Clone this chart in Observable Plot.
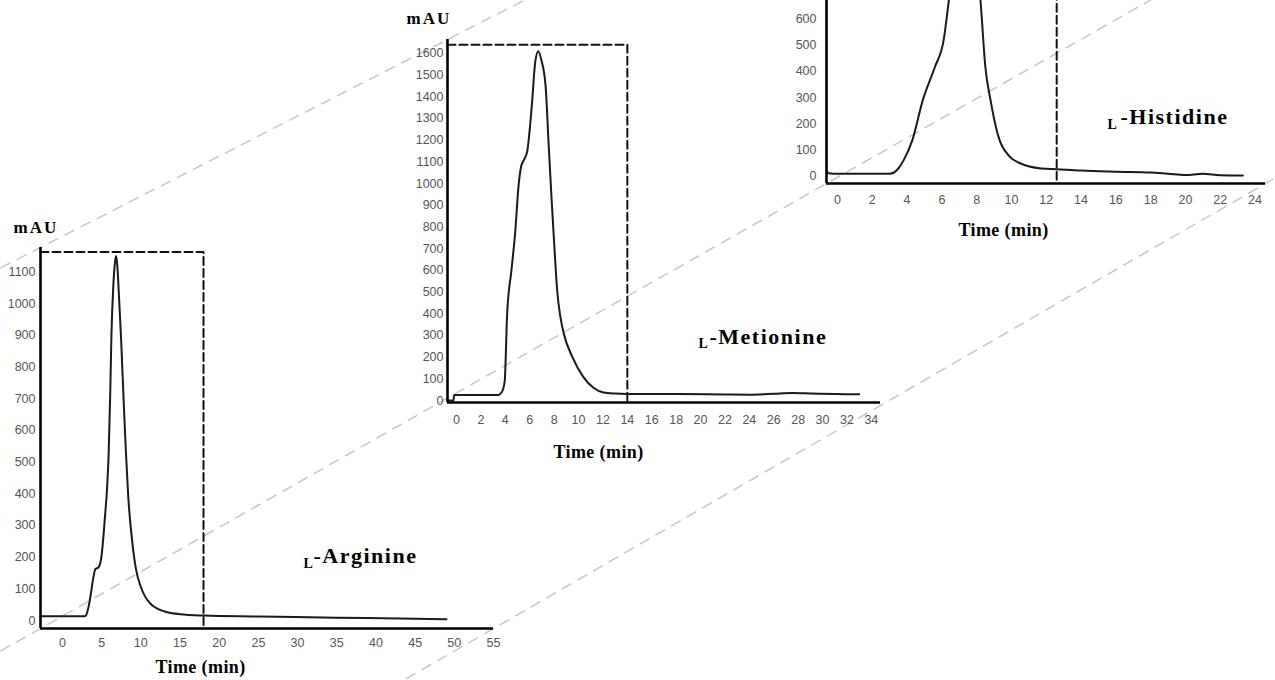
<!DOCTYPE html>
<html><head><meta charset="utf-8">
<script src="https://cdn.jsdelivr.net/npm/d3@7"></script>
<script src="https://cdn.jsdelivr.net/npm/@observablehq/plot@0.6"></script>
<style>
body{margin:0;background:#fff;}
#stage{position:relative;width:1275px;height:680px;overflow:hidden;background:#fff;}
#stage > svg{position:absolute;}
</style></head><body><div id="stage"></div>
<script>
// ---------- data ----------
const argTime   = [-2.8, 2.8, 3.0, 3.3, 3.6, 3.9, 4.2, 4.6, 4.9, 5.1, 5.4, 5.7, 5.9, 6.1, 6.25, 6.5, 6.7, 6.85, 7.0, 7.2, 7.5, 7.8, 8.1, 8.4, 8.9, 9.4, 9.95, 10.5, 11.2, 12.3, 13.4, 15, 18, 25, 35, 45, 49];
const argSignal = [14, 14, 16, 40, 80, 130, 162, 168, 190, 230, 320, 420, 530, 720, 900, 1060, 1130, 1150, 1120, 1030, 880, 700, 530, 390, 250, 160, 110, 78, 54, 35, 26, 20, 16, 13, 9, 6, 4];

const metTime   = [-0.7, -0.25, -0.2, 3.4, 3.6, 3.8, 3.95, 4.15, 4.5, 4.8, 5.1, 5.3, 5.5, 5.8, 6.0, 6.2, 6.45, 6.7, 6.95, 7.3, 7.55, 7.8, 8.05, 8.25, 8.5, 8.8, 9.5, 10.4, 11.2, 12.05, 13, 14, 18, 22, 24, 26, 27.5, 29, 31, 33];
const metSignal = [0, 0, 25, 25, 32, 50, 90, 400, 600, 770, 1000, 1080, 1106, 1150, 1250, 1380, 1560, 1610, 1570, 1450, 1180, 920, 680, 507, 390, 307, 200, 108, 60, 37, 32, 30, 30, 28, 27, 31, 35, 33, 30, 29];

const hisTime   = [-0.6, -0.5, 0, 3.0, 3.5, 3.8, 4.3, 4.9, 5.6, 6.1, 6.4, 6.8, 7.3, 7.7, 8.0, 8.22, 8.5, 8.8, 9.2, 9.9, 10.5, 11.7, 12.6, 14, 16, 18, 19, 20, 21, 22, 23.3];
const hisSignal = [20, 12, 10, 10, 30, 61, 137, 289, 416, 517, 669, 900, 1050, 980, 820, 669, 416, 289, 163, 75, 50, 30, 27, 22, 18, 15, 10, 5, 10, 4, 3];

const argXTicks = [0, 5, 10, 15, 20, 25, 30, 35, 40, 45, 50, 55];
const argYTicks = [0, 100, 200, 300, 400, 500, 600, 700, 800, 900, 1000, 1100];
const metXTicks = [0, 2, 4, 6, 8, 10, 12, 14, 16, 18, 20, 22, 24, 26, 28, 30, 32, 34];
const metYTicks = [0, 100, 200, 300, 400, 500, 600, 700, 800, 900, 1000, 1100, 1200, 1300, 1400, 1500, 1600];
const hisXTicks = [0, 2, 4, 6, 8, 10, 12, 14, 16, 18, 20, 22, 24];
const hisYTicks = [0, 100, 200, 300, 400, 500, 600];   // higher ticks fall outside the picture

const compoundNames = ["Arginine", "Metionine", "Histidine"];
const boxEnd = [18, 14, 12.6];      // min, end of dashed window
const boxTop = [1163, 1640, 1150];  // mAU, top of dashed window
const yUnit = "mAU";
const xTitle = "Time (min)";

// ---------- layout ----------
const panels = [
  {time: argTime, signal: argSignal, xTicks: argXTicks, yTicks: argYTicks, name: compoundNames[0], bEnd: boxEnd[0], bTop: boxTop[0],
   fx: 40, fy: 247, fw: 453, fh: 381, ml: 45, mt: 30, mr: 12, mb: 52,
   xDomain: [-2.8, 55], yDomain: [-25, 1177], xPad: 10, yPad: 5, showUnit: true,
   mau: [-27, -15], tt: [160, 44], L: [263, -61], nm: [273, -66]},
  {time: metTime, signal: metSignal, xTicks: metXTicks, yTicks: metYTicks, name: compoundNames[1], bEnd: boxEnd[1], bTop: boxTop[1],
   fx: 447, fy: 39, fw: 433, fh: 363, ml: 50, mt: 39, mr: 12, mb: 62,
   xDomain: [-0.74, 34.75], yDomain: [-9, 1664], xPad: 13, yPad: 4, showUnit: true,
   mau: [-41, -16], tt: [151, 55], L: [251, -55], nm: [262, -59]},
  {time: hisTime, signal: hisSignal, xTicks: hisXTicks, yTicks: hisYTicks, name: compoundNames[2], bEnd: boxEnd[2], bTop: boxTop[2],
   fx: 826, fy: -157, fw: 439, fh: 340, ml: 50, mt: 30, mr: 10, mb: 60,
   xDomain: [-0.63, 24.6], yDomain: [-27, 1266], xPad: 12, yPad: 10, showUnit: false,
   mau: [-41, -16], tt: [177, 52], L: [281, -55], nm: [294, -60]}
];

const stage = document.getElementById("stage");
const serif = "'Liberation Serif', 'Times New Roman', serif";

// ---------- diagonal guide lines (through panel frame corners) ----------
const P = panels;
const corner = (p, which) => which === "tl" ? [p.fx, p.fy] : which === "bl" ? [p.fx, p.fy + p.fh] : [p.fx + p.fw, p.fy + p.fh];
const guidePairs = [[corner(P[0], "tl"), corner(P[1], "tl")], [corner(P[0], "bl"), corner(P[2], "bl")], [corner(P[0], "br"), corner(P[2], "br")]];
const guides = guidePairs.map(([a, b]) => {
  const s = (b[1] - a[1]) / (b[0] - a[0]);
  return {x1: 0, y1: a[1] - s * a[0], x2: 1275, y2: a[1] + s * (1275 - a[0])};
});
const bg = Plot.plot({
  width: 1275, height: 680, margin: 0,
  x: {domain: [0, 1275], axis: null},
  y: {domain: [0, 680], range: [0, 680], axis: null},
  style: {background: "transparent"},
  marks: [Plot.link(guides, {x1: "x1", y1: "y1", x2: "x2", y2: "y2", stroke: "#c4c4c4", strokeWidth: 1.4, strokeDasharray: "11,7"})]
});
bg.style.left = "0px"; bg.style.top = "0px";
stage.appendChild(bg);

// ---------- panels ----------
for (const p of panels) {
  const data = p.time.map((t, i) => ({t, v: p.signal[i]}));
  const [x0] = p.xDomain, [y0] = p.yDomain;
  const box = [{t: x0, v: p.bTop}, {t: p.bEnd, v: p.bTop}, {t: p.bEnd, v: y0}];
  const marks = [
    Plot.line(box, {x: "t", y: "v", stroke: "#111", strokeWidth: 2, strokeDasharray: "8,4"}),
    Plot.line(data, {x: "t", y: "v", stroke: "#1a1a1a", strokeWidth: 2, curve: "monotone-x"}),
    Plot.ruleX([x0], {stroke: "#000", strokeWidth: 2.6}),
    Plot.ruleY([y0], {stroke: "#000", strokeWidth: 2.6}),
    Plot.text([xTitle], {text: d => d, frameAnchor: "bottom-left", dx: p.tt[0], dy: p.tt[1], textAnchor: "middle", lineAnchor: "bottom", fontFamily: serif, fontWeight: "bold", fontSize: 18, fill: "#000"}),
    Plot.text(["L"], {text: d => d, frameAnchor: "bottom-left", dx: p.L[0], dy: p.L[1], textAnchor: "start", lineAnchor: "bottom", fontFamily: serif, fontWeight: "bold", fontSize: 14, fill: "#000"}),
    Plot.text(["-" + p.name], {text: d => d, frameAnchor: "bottom-left", dx: p.nm[0], dy: p.nm[1], textAnchor: "start", lineAnchor: "bottom", fontFamily: serif, fontWeight: "bold", fontSize: 22, fill: "#000"})
  ];
  if (p.showUnit) marks.push(Plot.text([yUnit], {text: d => d, frameAnchor: "top-left", dx: p.mau[0], dy: p.mau[1], textAnchor: "start", lineAnchor: "bottom", fontFamily: serif, fontWeight: "bold", fontSize: 17, fill: "#000"}));
  const chart = Plot.plot({
    width: p.ml + p.fw + p.mr, height: p.mt + p.fh + p.mb,
    marginLeft: p.ml, marginTop: p.mt, marginRight: p.mr, marginBottom: p.mb,
    x: {domain: p.xDomain, ticks: p.xTicks, tickSize: 0, tickPadding: p.xPad, tickFormat: "d", label: null},
    y: {domain: p.yDomain, ticks: p.yTicks, tickSize: 0, tickPadding: p.yPad, tickFormat: "d", label: null},
    style: {background: "transparent", overflow: "visible", fontFamily: "'Liberation Sans', Arial, sans-serif", fontSize: "12.5px", color: "#555"},
    marks
  });
  d3.select(chart).selectAll('g[aria-label="text"] text').each(function() {
    const s = this.textContent;
    const ls = s === yUnit ? 2 : s === xTitle ? 0.4 : s === "L" ? 0 : 1.5;
    this.setAttribute("letter-spacing", ls);
  });
  chart.style.left = (p.fx - p.ml) + "px";
  chart.style.top = (p.fy - p.mt) + "px";
  stage.appendChild(chart);
}
</script>
</body></html>
